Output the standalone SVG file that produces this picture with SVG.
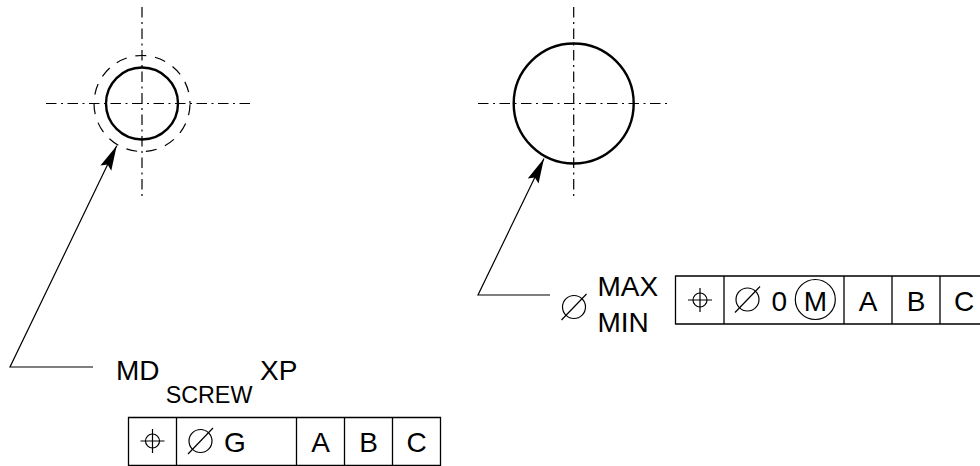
<svg xmlns="http://www.w3.org/2000/svg" width="980" height="466" viewBox="0 0 980 466">
<style>
text{font-family:"Liberation Sans",Arial,sans-serif;font-size:28px;fill:#000}
.t{text-anchor:middle}
.s{font-size:23.300px}
.thin{fill:none;stroke:#000;stroke-width:1.2}
.heavy{fill:none;stroke:#000;stroke-width:2.4}
.dash{fill:none;stroke:#000;stroke-width:1.2;stroke-dasharray:11 8.850;stroke-dashoffset:-0.780}
.cl{fill:none;stroke:#000;stroke-width:1.2;stroke-dasharray:10.500 4.500 2 4.500}
.box{fill:none;stroke:#000;stroke-width:1.300}
</style>
<defs>
<marker id="ah" markerUnits="userSpaceOnUse" markerWidth="30" markerHeight="14" refX="26" refY="7" orient="auto"><path d="M1,1 L26,7 L1,13 L5,7Z" fill="#000"/></marker>
<g id="pos"><circle r="7" class="thin"/><path class="thin" d="M-12,0H12M0,-12V12"/></g>
<g id="dia"><circle r="11.500" class="thin"/><path class="thin" d="M-12.500,13L12.500,-13"/></g>
</defs>
<g id="connectors">
<path class="thin" d="M93,367H10L116.700,145.700" marker-end="url(#ah)"/>
<path class="thin" d="M550,295H478L544,158.500" marker-end="url(#ah)"/>
</g>
<g id="hole-left">
<path class="cl" d="M46,103.500H250"/><path class="cl" d="M142,7V197"/>
<circle cx="142" cy="103.500" r="48" class="dash"/>
<circle cx="142" cy="103.500" r="36" class="heavy"/>
</g>
<g id="hole-right">
<path class="cl" d="M478,103.500H668"/><path class="cl" d="M573.700,7V197"/>
<circle cx="573.700" cy="103.500" r="60" class="heavy"/>
</g>
<g id="label-left">
<text x="116" y="380">MD</text>
<text x="165.700" y="403" class="s">SCREW</text>
<text x="260" y="380">XP</text>
</g>
<g id="label-right">
<use href="#dia" x="574" y="307"/>
<text x="597.500" y="296">MAX</text>
<text x="597.500" y="332">MIN</text>
</g>
<g id="fcf-left">
<path class="box" d="M128.500,417.500H440.500V465.500H128.500ZM176.500,417.500V465.500M296.500,417.500V465.500M344.500,417.500V465.500M392.500,417.500V465.500"/>
<use href="#pos" x="152.500" y="441"/>
<use href="#dia" x="200.500" y="441"/>
<text x="224" y="452">G</text>
<text class="t" x="320.500" y="452">A</text><text class="t" x="368.500" y="452">B</text><text class="t" x="416.500" y="452">C</text>
</g>
<g id="fcf-right">
<path class="box" d="M990,276H675.500V324H990M724,276V324M844,276V324M892,276V324M940,276V324"/>
<use href="#pos" x="700" y="300"/>
<use href="#dia" x="747.500" y="299.500"/>
<text x="771.500" y="311">0</text>
<circle cx="815.300" cy="299.500" r="20" class="thin"/>
<text class="t" x="815.300" y="311">M</text>
<text class="t" x="868" y="311">A</text><text class="t" x="916" y="311">B</text><text class="t" x="964" y="311">C</text>
</g>
</svg>
